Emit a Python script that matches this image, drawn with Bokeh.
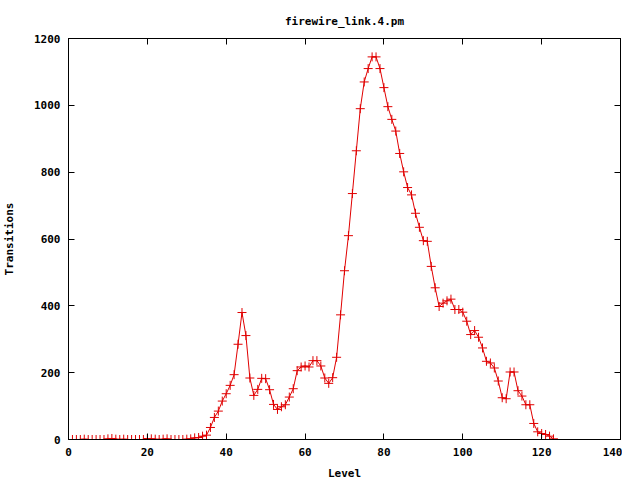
from bokeh.plotting import figure
from bokeh.models import Range1d, LinearAxis, FixedTicker
from bokeh.embed import file_html
from bokeh.resources import INLINE

title = "firewire_link.4.pm"
x_label = "Level"
y_label = "Transitions"

levels = list(range(0, 124))
transitions = [
    0, 0, 0, 0, 1, 0, 0, 0, 0, 0,
    2, 3, 1, 0, 1, 0, 0, 0, 0, 0,
    3, 2, 1, 0, 1, 2, 0, 0, 0, 0,
    1, 2, 5, 6, 10, 13, 36, 66, 85, 115,
    137, 162, 194, 285, 380, 311, 184, 132, 150, 183,
    182, 149, 105, 90, 98, 104, 127, 152, 206, 217,
    220, 217, 236, 236, 220, 184, 168, 185, 246, 373,
    505, 610, 736, 864, 990, 1070, 1110, 1145, 1145, 1110,
    1053, 996, 958, 923, 856, 801, 754, 732, 677, 635,
    595, 593, 518, 454, 398, 408, 415, 420, 389, 389,
    381, 354, 314, 326, 306, 274, 234, 229, 214, 175,
    125, 122, 202, 202, 146, 130, 104, 104, 48, 23,
    18, 15, 10, 2,
]
x_ticks = [0, 20, 40, 60, 80, 100, 120, 140]
y_ticks = [0, 200, 400, 600, 800, 1000, 1200]

RED = "#e00000"
FONT = "DejaVu Sans Mono"

p = figure(frame_width=552, frame_height=401, output_backend="svg", toolbar_location=None,
           x_range=Range1d(0, 140), y_range=Range1d(0, 1200),
           min_border_left=64, min_border_right=2, min_border_top=38, min_border_bottom=0)
p.title.text = title
p.title.align = "center"
p.title.text_font = FONT
p.title.text_font_size = "11px"
p.title.text_font_style = "bold"
p.title.text_color = "black"
p.title.standoff = 21
p.outline_line_color = "black"
p.outline_line_width = 1
p.xgrid.visible = False
p.ygrid.visible = False

p.line(levels, transitions, line_color=RED, line_width=1)
p.scatter(levels, transitions, marker="cross", size=9, color=RED, line_color=RED, line_width=1)

def style(ax, ticks, labels=True):
    ax.ticker = FixedTicker(ticks=ticks)
    ax.major_tick_in = 6
    ax.major_tick_out = 0
    ax.minor_tick_line_color = None
    ax.axis_line_color = "black"
    ax.major_tick_line_color = "black"
    ax.major_label_text_font = FONT
    ax.major_label_text_font_size = "11px"
    ax.major_label_text_font_style = "bold"
    ax.major_label_text_color = "black"
    ax.axis_label_text_font = FONT
    ax.axis_label_text_font_size = "11px"
    ax.axis_label_text_font_style = "bold"
    ax.axis_label_text_color = "black"
    if not labels:
        ax.major_label_text_color = None
        ax.major_label_standoff = 0

style(p.xaxis[0], x_ticks)
style(p.yaxis[0], y_ticks)
p.xaxis[0].axis_label = x_label
p.yaxis[0].axis_label = y_label
p.xaxis[0].major_label_standoff = 8
p.yaxis[0].major_label_standoff = 8
p.xaxis[0].axis_label_standoff = 8
p.yaxis[0].axis_label_standoff = 15

top = LinearAxis()
style(top, x_ticks, labels=False)
p.add_layout(top, "above")
right = LinearAxis()
style(right, y_ticks, labels=False)
p.add_layout(right, "right")

open("out.html", "w").write(file_html(p, INLINE))
